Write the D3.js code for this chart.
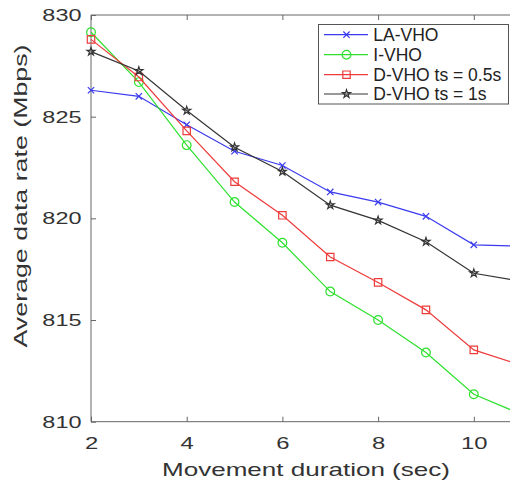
<!DOCTYPE html>
<html>
<head>
<meta charset="utf-8">
<script src="https://cdn.jsdelivr.net/npm/d3@7"></script>
<style>
  body { margin: 0; background: #fff; }
  svg { display: block; font-family: "Liberation Sans", Arial, sans-serif; }
</style>
</head>
<body>
<svg></svg>
<script>
// values
const durations = [2, 3, 4, 5, 6, 7, 8, 9, 10, 11]
const laVho  = [826.3, 826.0, 824.6, 823.3, 822.6, 821.3, 820.8, 820.1, 818.7, 818.63]
const iVho   = [829.15, 826.7, 823.6, 820.8, 818.8, 816.4, 815.0, 813.4, 811.35, 810.36]
const dVho05 = [828.8, 826.95, 824.3, 821.8, 820.15, 818.1, 816.85, 815.5, 813.53, 812.77]
const dVho1  = [828.2, 827.25, 825.3, 823.5, 822.3, 820.65, 819.9, 818.85, 817.3, 816.9]
const seriesNames = ['LA-VHO', 'I-VHO', 'D-VHO ts = 0.5s', 'D-VHO ts = 1s']
const xTicks = [2, 4, 6, 8, 10]
const yTicks = [810, 815, 820, 825, 830]

const series = [
  {name: seriesNames[0], values: laVho,  color: '#3a3aee', symbol: d3.symbolX, size: 28},
  {name: seriesNames[1], values: iVho,   color: '#2ee02e', symbol: d3.symbolCircle, size: 60},
  {name: seriesNames[2], values: dVho05, color: '#ee3b3b', symbol: d3.symbolSquare, size: 55},
  {name: seriesNames[3], values: dVho1,  color: '#333333', symbol: d3.symbolStar, size: 20}
]

const [svgWidth, svgHeight] = [510, 481]
const svg = d3.select('svg').attr('width', svgWidth).attr('height', svgHeight)

const plotLeft = 91, plotTop = 15, plotBottom = 421.7
const x = d3.scaleLinear().domain([2, 11]).range([plotLeft, plotLeft + 9 * 47.85])
const y = d3.scaleLinear().domain([810, 830]).range([plotBottom, plotTop])
const axisColor = '#666'
const plotRight = x(11)

// the original labels are drawn wider than Arial, stretch them a bit
const widen = (sel, k) => sel.each(function () {
  const w = this.getComputedTextLength()
  d3.select(this).attr('textLength', w * k).attr('lengthAdjust', 'spacingAndGlyphs')
})

// frame
svg.append('line').attr('x1', plotLeft).attr('x2', plotRight).attr('y1', plotTop).attr('y2', plotTop)
  .attr('stroke', axisColor)
svg.append('line').attr('x1', plotLeft).attr('x2', plotRight).attr('y1', plotBottom).attr('y2', plotBottom)
  .attr('stroke', axisColor)
svg.append('line').attr('x1', plotLeft).attr('x2', plotLeft).attr('y1', plotTop).attr('y2', plotBottom)
  .attr('stroke', axisColor)

// axes
const xAxis = svg.append('g').attr('transform', `translate(0, ${plotBottom})`)
  .call(d3.axisBottom(x).tickValues(xTicks).tickSizeInner(-5).tickSizeOuter(0).tickPadding(15))
const xTop = svg.append('g').attr('transform', `translate(0, ${plotTop})`)
  .call(d3.axisTop(x).tickValues(xTicks).tickSizeInner(-5).tickSizeOuter(0).tickFormat(''))
const yAxis = svg.append('g').attr('transform', `translate(${plotLeft}, 0)`)
  .call(d3.axisLeft(y).tickValues(yTicks).tickSizeInner(-5).tickSizeOuter(0).tickPadding(9.5))

;[xAxis, xTop, yAxis].forEach(g => {
  g.select('.domain').remove()
  g.selectAll('line').attr('stroke', axisColor)
  g.selectAll('text').attr('fill', '#333').style('font-size', '17px')
})
widen(xAxis.selectAll('text'), 1.4)
widen(yAxis.selectAll('text'), 1.38)

// axis titles
svg.append('text').attr('x', 306).attr('y', 475.5).attr('text-anchor', 'middle')
  .attr('fill', '#333').style('font-size', '18.5px')
  .attr('textLength', 288).attr('lengthAdjust', 'spacingAndGlyphs')
  .text('Movement duration (sec)')
svg.append('text').attr('transform', `translate(27, 196) rotate(-90)`).attr('text-anchor', 'middle')
  .attr('fill', '#333').style('font-size', '18.5px')
  .attr('textLength', 303).attr('lengthAdjust', 'spacingAndGlyphs')
  .text('Average data rate (Mbps)')

// lines and markers
const line = d3.line().x((d, i) => x(durations[i])).y(d => y(d))
const plot = svg.append('g')
series.forEach(s => {
  plot.append('path').datum(s.values).attr('d', line)
    .attr('fill', 'none').attr('stroke', s.color).attr('stroke-width', 1.2)
  plot.selectAll(null).data(s.values).enter().append('path')
    .attr('transform', (d, i) => `translate(${x(durations[i])}, ${y(d)})`)
    .attr('d', d3.symbol(s.symbol, s.size))
    .attr('fill', 'none').attr('stroke', s.color).attr('stroke-width', 1.2)
})

// legend
const legend = svg.append('g')
legend.append('rect').attr('x', 318.5).attr('y', 24.5).attr('width', 190).attr('height', 79.5)
  .attr('fill', '#fff').attr('stroke', '#555')
const legendY = [34.7, 54.7, 74.7, 94]
series.forEach((s, i) => {
  const g = legend.append('g').attr('transform', `translate(0, ${legendY[i]})`)
  g.append('line').attr('x1', 324).attr('x2', 368).attr('stroke', s.color).attr('stroke-width', 1.2)
  g.append('path').attr('transform', 'translate(346.5, 0)').attr('d', d3.symbol(s.symbol, s.size))
    .attr('fill', 'none').attr('stroke', s.color).attr('stroke-width', 1.2)
  g.append('text').attr('x', 373.3).attr('dy', '0.36em').attr('fill', '#222')
    .style('font-size', '17.5px').text(s.name)
})
</script>
</body>
</html>
